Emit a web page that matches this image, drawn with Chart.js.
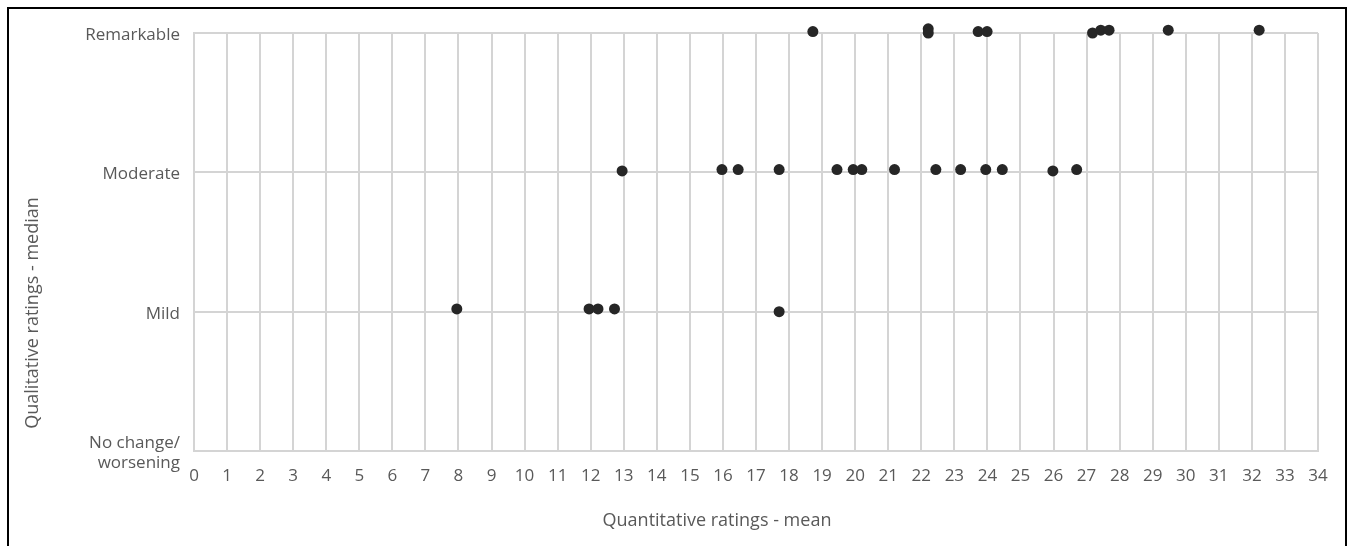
<!DOCTYPE html>
<html>
<head>
<meta charset="utf-8">
<script src="https://cdn.jsdelivr.net/npm/chart.js@4/dist/chart.umd.min.js"></script>
<style>
  html, body { margin: 0; padding: 0; background: #fff; overflow: hidden; }
  #wrap { position: absolute; left: 0; top: 0; width: 1348px; height: 546px; }
  #frame { position: absolute; left: 7px; top: 7px; width: 1336px; height: 600px; border: 2px solid #000; pointer-events: none; }
</style>
</head>
<body>
<div id="wrap"><canvas id="c"></canvas></div>
<div id="frame"></div>
<script>
// Data
const xValues = [
  18.72, 22.21, 22.21, 23.72, 23.99, 27.18, 27.43, 27.68, 29.47, 32.22,
  12.95, 15.97, 16.46, 17.70, 19.45, 19.94, 20.20, 21.19, 22.44, 23.19, 23.95, 24.45, 25.98, 26.70,
  7.95, 11.95, 12.22, 12.72, 17.70
];
const yValues = [
  3.01, 3.03, 3.00, 3.01, 3.01, 3.00, 3.02, 3.02, 3.02, 3.02,
  2.01, 2.02, 2.02, 2.02, 2.02, 2.02, 2.02, 2.02, 2.02, 2.02, 2.02, 2.02, 2.01, 2.02,
  1.02, 1.02, 1.02, 1.02, 1.00
];
const yTickLabels = [['No change/', 'worsening'], 'Mild', 'Moderate', 'Remarkable'];
const xAxisTitle = 'Quantitative ratings - mean';
const yAxisTitle = 'Qualitative ratings - median';

const points = xValues.map((x, i) => ({ x: x, y: yValues[i] }));

const FONT = "'Open Sans', 'Noto Sans', sans-serif";
const TXT = '#595959';
const GRID = '#d4d4d4';

const axisTitlePlugin = {
  id: 'axisTitles',
  afterDraw(chart) {
    const ctx = chart.ctx;
    ctx.save();
    ctx.font = '18px ' + FONT;
    ctx.fillStyle = TXT;
    ctx.textAlign = 'center';
    ctx.textBaseline = 'middle';
    ctx.fillText(xAxisTitle, 717, 521);
    ctx.translate(33, 313);
    ctx.rotate(-Math.PI / 2);
    ctx.fillText(yAxisTitle, 0, 0);
    ctx.restore();
  }
};

new Chart(document.getElementById('c'), {
  type: 'scatter',
  data: {
    datasets: [{
      data: points,
      backgroundColor: '#262626',
      borderColor: '#262626',
      pointRadius: 5.5,
      pointHoverRadius: 5.5,
      borderWidth: 0,
      clip: false
    }]
  },
  options: {
    responsive: true,
    maintainAspectRatio: false,
    animation: false,
    layout: { padding: { top: 33, right: 30, left: 0, bottom: 0 } },
    plugins: { legend: { display: false }, tooltip: { enabled: false } },
    scales: {
      x: {
        type: 'linear',
        min: 0, max: 34,
        afterFit(scale) { scale.height = 95; },
        grid: { color: GRID, lineWidth: 2, drawTicks: false },
        border: { color: GRID, width: 2 },
        ticks: {
          stepSize: 1, autoSkip: false, maxRotation: 0, padding: 15,
          color: TXT, font: { family: FONT, size: 17 }
        }
      },
      y: {
        type: 'linear',
        min: 0, max: 3,
        afterFit(scale) { scale.width = 194; },
        grid: { color: GRID, lineWidth: 2, drawTicks: false },
        border: { color: GRID, width: 2 },
        ticks: {
          stepSize: 1, padding: 14, labelOffset: 2,
          color: TXT, font: { family: FONT, size: 17 },
          callback: (v) => yTickLabels[v]
        }
      }
    }
  },
  plugins: [axisTitlePlugin]
});
</script>
</body>
</html>
